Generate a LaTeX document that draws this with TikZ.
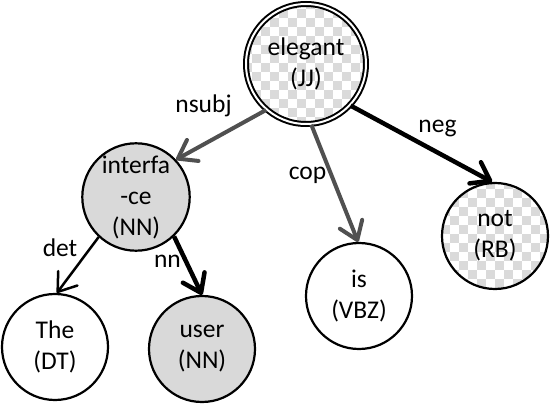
\documentclass[tikz,border=0pt]{standalone}
\usepackage{fontspec}
\setmainfont{Carlito}
\usetikzlibrary{arrows.meta}
\definecolor{nodegray}{HTML}{D9D9D9}
\definecolor{chkgray}{HTML}{DADADA}
\definecolor{edgegray}{HTML}{505050}
\begin{document}
\begin{tikzpicture}[x=1pt,y=-1pt,
  word/.style={circle, draw=black, line width=2.2pt, minimum size=106pt, inner sep=0pt,
    align=center, font=\fontsize{25.5}{31}\selectfont},
  grayword/.style={word, fill=nodegray},
  rootword/.style={word, line width=2pt, double=white, double distance=2pt, minimum size=120pt},
  lbl/.style={anchor=base, inner sep=0pt, font=\fontsize{25.5}{31}\selectfont},
  dep/.style={line width=#1, -{Straight Barb[length=17pt,width=24pt,round]}}
]
\useasboundingbox (0,0) rectangle (550,404);
% checkerboard fills
\begin{scope}
  \clip (306,64) circle (60);
  \foreach \i in {26,...,41}{\foreach \j in {0,...,14}{
    \pgfmathtruncatemacro\p{mod(\i+\j,2)}
    \ifnum\p=0 \fill[chkgray] (\i*9,\j*9) rectangle ++(9,9);\fi}}
\end{scope}
\begin{scope}
  \clip (495,236) circle (53);
  \foreach \i in {48,...,61}{\foreach \j in {19,...,33}{
    \pgfmathtruncatemacro\p{mod(\i+\j,2)}
    \ifnum\p=0 \fill[chkgray] (\i*9,\j*9) rectangle ++(9,9);\fi}}
\end{scope}
% nodes
\node[rootword] (eleg) at (306,64) {elegant\\(JJ)};
\node[grayword] (iface) at (136,197) {interfa\\-ce\\(NN)};
\node[word] (is) at (359,296) {is\\(VBZ)};
\node[word] (not) at (495,236) {not\\(RB)};
\node[word] (the) at (55,347) {The\\(DT)};
\node[grayword] (user) at (202,349) {user\\(NN)};
% edges
\draw[dep=4pt, edgegray] (eleg.229) -- (iface.43);
\draw[dep=4pt, edgegray] (eleg.275) -- (is.91);
\draw[dep=4.5pt] (eleg.-43) -- (not.93);
\draw[dep=2.5pt] (iface.227) -- (the.88);
\draw[dep=4.5pt] (iface.314) -- (user.90);
% labels
\node[lbl] (lnsubj) at (203.5,113) {nsubj};
\node[lbl] (lcop) at (307.5,179) {cop};
\node[lbl] (lneg) at (437.5,132) {neg};
\node[lbl] (ldet) at (60,256) {det};
\node[lbl] (lnn) at (167.5,268) {nn};
\end{tikzpicture}
\end{document}
